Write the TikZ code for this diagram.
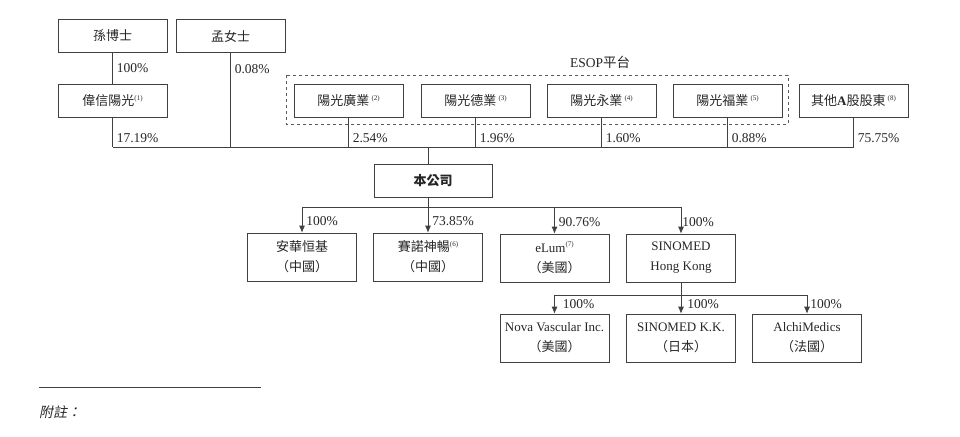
\documentclass[tikz,border=0pt]{standalone}
\usepackage{fontspec}
\setmainfont{Liberation Serif}
\newfontfamily\cjk{Noto Sans CJK TC}
\newfontfamily\cjkit[FakeSlant=0.2]{Noto Sans CJK TC}
\usetikzlibrary{arrows.meta}

\newcommand{\fnote}[1]{\raisebox{0.45em}{\fontsize{7}{8}\selectfont(#1)}}

\tikzset{
  box/.style={draw=black!75, line width=0.7pt, minimum width=109pt, minimum height=33pt,
    align=center, inner sep=1pt, text=black!85, font=\fontsize{13}{20}\selectfont},
  tallbox/.style={box, minimum height=48pt},
  link/.style={draw=black!75, line width=0.7pt},
  arr/.style={link, -{Latex[length=7pt,width=6pt]}},
  pct/.style={right, inner sep=4pt, text=black!85, font=\fontsize{13.5}{15}\selectfont},
}

\begin{document}
\begin{tikzpicture}[x=1pt,y=-1pt]
    \useasboundingbox (0,0) rectangle (960,436);

    % Shareholders
    \node[box] (sun) at (112.5,36) {\cjk 孫博士};
    \node[box] (meng) at (230.5,36) {\cjk 孟女士};
    \node[box] (weixin) at (112.5,101) {{\cjk 偉信陽光}\fnote{1}};

    % ESOP platform
    \draw[dashed, draw=black!65, line width=0.7pt] (286,75) rectangle (788,124);
    \node[text=black!85, font=\fontsize{13.5}{15}\selectfont] (esop) at (600,62) {ESOP{\cjk 平台}};
    \node[box] (guang) at (348.5,101) {{\cjk 陽光廣業}\,\fnote{2}};
    \node[box] (de) at (475.5,101) {{\cjk 陽光德業}\,\fnote{3}};
    \node[box] (yong) at (601.5,101) {{\cjk 陽光永業}\,\fnote{4}};
    \node[box] (fu) at (727.5,101) {{\cjk 陽光福業}\,\fnote{5}};
    \node[box] (other) at (853.5,101) {{\cjk 其他}\textbf{A}{\cjk 股股東}\,\fnote{8}};

    % Company
    \coordinate (topbus) at (0,147);
    \coordinate (join) at (428,147);
    \node[box, minimum width=118pt] (company) at (433,181) {\cjk\bfseries 本公司};

    \draw[link] (sun) -- node[pct] {100\%} (weixin);
    \draw[link] (meng) -- node[pct, pos=0.17] {0.08\%} (meng |- topbus);
    \draw[link] (weixin) -- node[pct, pos=0.7] {17.19\%} (weixin |- topbus);
    \draw[link] (guang) -- node[pct, pos=0.7] {2.54\%} (guang |- topbus);
    \draw[link] (de) -- node[pct, pos=0.7] {1.96\%} (de |- topbus);
    \draw[link] (yong) -- node[pct, pos=0.7] {1.60\%} (yong |- topbus);
    \draw[link] (fu) -- node[pct, pos=0.7] {0.88\%} (fu |- topbus);
    \draw[link] (other) -- node[pct, pos=0.7] {75.75\%} (other |- topbus);
    \draw[link] (weixin |- topbus) -- (other |- topbus);
    \draw[link] (join) -- (join |- company.north);

    % Subsidiaries
    \coordinate (subbus) at (0,207);
    \node[tallbox] (anhua) at (302,257) {{\cjk 安華恒基}\\{\cjk （中國）}};
    \node[tallbox] (sainuo) at (428,257) {{\cjk 賽諾神暢}\fnote{6}\\{\cjk （中國）}};
    \node[tallbox] (elum) at (554.5,258) {eLum\fnote{7}\\{\cjk （美國）}};
    \node[tallbox] (hk) at (681,258) {SINOMED\\Hong Kong};

    \draw[link] (join |- company.south) -- (join |- subbus);
    \draw[link] (anhua |- subbus) -- (hk |- subbus);
    \draw[arr] (anhua |- subbus) -- node[pct, pos=0.55] {100\%} (anhua.north);
    \draw[arr] (sainuo |- subbus) -- node[pct, pos=0.55] {73.85\%} (sainuo.north);
    \draw[arr] (elum |- subbus) -- node[pct, pos=0.55] {90.76\%} (elum.north);
    \draw[arr] (hk |- subbus) -- node[pct, pos=0.55, inner sep=1pt] {100\%} (hk.north);

    % Subsidiaries of SINOMED Hong Kong
    \coordinate (hkbus) at (0,295);
    \node[tallbox] (nova) at (554.5,338) {Nova Vascular Inc.\\{\cjk （美國）}};
    \node[tallbox] (kk) at (681,338) {SINOMED K.K.\\{\cjk （日本）}};
    \node[tallbox] (alchi) at (807,338) {AlchiMedics\\{\cjk （法國）}};

    \draw[link] (hk) -- (hk |- hkbus);
    \draw[link] (nova |- hkbus) -- (alchi |- hkbus);
    \draw[arr] (nova |- hkbus) -- node[pct, pos=0.5, inner sep=8pt] {100\%} (nova.north);
    \draw[arr] (kk |- hkbus) -- node[pct, pos=0.5, inner sep=6pt] {100\%} (kk.north);
    \draw[arr] (alchi |- hkbus) -- node[pct, pos=0.5, inner sep=3pt] {100\%} (alchi.north);

    % Notes
    \draw[line width=0.7pt, black!75] (39,387) -- (261,387);
    \node[anchor=west, inner sep=0pt, text=black!85, font=\fontsize{14}{16}\selectfont] (notes) at (39,412) {\cjkit 附註：};

\end{tikzpicture}
\end{document}
